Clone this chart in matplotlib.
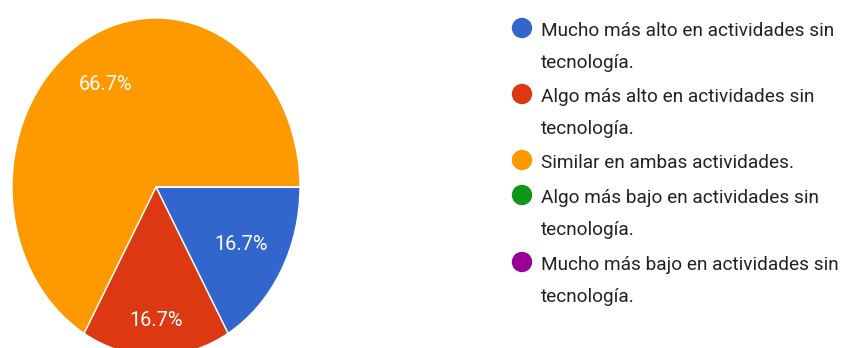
import matplotlib.pyplot as plt
import numpy as np
from matplotlib.patches import Ellipse

# respuestas por opción
labels = [
    'Mucho más alto en actividades sin\ntecnología.',
    'Algo más alto en actividades sin\ntecnología.',
    'Similar en ambas actividades.',
    'Algo más bajo en actividades sin\ntecnología.',
    'Mucho más bajo en actividades sin\ntecnología.',
]
counts = [1, 1, 4, 0, 0]
colors = ['#3366cc', '#dc3912', '#ff9900', '#109618', '#990099']

W, H = 843, 348
FONT = 'Roboto'


def draw():
    fig = plt.figure(figsize=(W / 100, H / 100), dpi=100)

    # el círculo queda algo estirado en vertical y cortado abajo
    ax = fig.add_axes([12 / W, -8 / H, 288 / W, 338 / H])
    wedges, _, pct = ax.pie(
        counts, colors=colors, startangle=0, counterclock=False,
        autopct=lambda p: f'{p:.1f}%' if p > 0 else '',
        wedgeprops=dict(edgecolor='white', linewidth=1),
        textprops=dict(color='white', fontsize=14.4, family=FONT),
    )
    ax.set_aspect('auto')
    ax.set_xlim(-1, 1)
    ax.set_ylim(-1, 1)

    # distancia de cada porcentaje al centro
    dist = [0.68, 0.79, 0.70, 0, 0]
    for w, t, r in zip(wedges, pct, dist):
        th = np.deg2rad((w.theta1 + w.theta2) / 2)
        t.set_position((r * np.cos(th), r * np.sin(th)))
        t.set_ha('center')
        t.set_va('center')

    # leyenda a mano
    row_y = [28, 94, 160, 195, 262]
    for lab, c, y in zip(labels, colors, row_y):
        fig.add_artist(Ellipse((522 / W, 1 - y / H), 19 / W, 19 / H,
                               transform=fig.transFigure, color=c))
        for k, line in enumerate(lab.split('\n')):
            fig.text(541 / W, 1 - (y + 8 + 32 * k) / H, line, va='baseline',
                     ha='left', fontsize=13.7, family=FONT, color='#222222')

    fig.savefig('out.png', dpi=100, facecolor='white')


if __name__ == '__main__':
    draw()
